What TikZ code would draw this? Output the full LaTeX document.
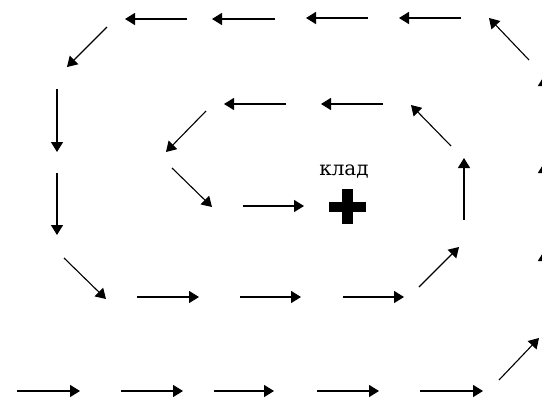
\documentclass[tikz,border=0pt]{standalone}
\usepackage{fontspec}
\newfontfamily\kladfont{DejaVu Serif}
\usetikzlibrary{arrows.meta}
\begin{document}
\begin{tikzpicture}[x=1pt,y=-1pt,
  arr/.style={line width=1.5pt,-{Triangle[length=10pt,width=12pt]}},
  diag/.style={arr,line width=1.1pt},
  label/.style={font=\kladfont\fontsize{20}{20}\selectfont,inner sep=0pt,anchor=base}]
\useasboundingbox (0,0) rectangle (542,399);
\clip (0,0) rectangle (542,399);
% outer loop, top row
\coordinate (a1s) at (187,19); \coordinate (a1e) at (125,19);
\coordinate (a2s) at (275,19); \coordinate (a2e) at (212,19);
\coordinate (a3s) at (368,18); \coordinate (a3e) at (306,18);
\coordinate (a4s) at (461,18); \coordinate (a4e) at (399,18);
\coordinate (a5s) at (529,60); \coordinate (a5e) at (489,18);
\coordinate (a6s) at (107,27); \coordinate (a6e) at (67,67);
\coordinate (a7s) at (57,89);  \coordinate (a7e) at (57,152);
\coordinate (a8s) at (57,173); \coordinate (a8e) at (57,235);
\coordinate (a9s) at (64,258); \coordinate (a9e) at (106,299);
% middle row
\coordinate (b1s) at (137,297); \coordinate (b1e) at (199,297);
\coordinate (b2s) at (240,297); \coordinate (b2e) at (301,297);
\coordinate (b3s) at (343,297); \coordinate (b3e) at (404,297);
\coordinate (b4s) at (419,287); \coordinate (b4e) at (459,247);
\coordinate (b5s) at (464,220); \coordinate (b5e) at (464,158);
\coordinate (b6s) at (451,146); \coordinate (b6e) at (411,105);
\coordinate (b7s) at (383,104); \coordinate (b7e) at (321,104);
\coordinate (b8s) at (286,104); \coordinate (b8e) at (224,104);
\coordinate (b9s) at (206,111); \coordinate (b9e) at (166,152);
\coordinate (b10s) at (172,168); \coordinate (b10e) at (212,207);
\coordinate (b11s) at (243,206); \coordinate (b11e) at (304,206);
% bottom row
\coordinate (c1s) at (17,391);  \coordinate (c1e) at (80,391);
\coordinate (c2s) at (121,391); \coordinate (c2e) at (183,391);
\coordinate (c3s) at (214,391); \coordinate (c3e) at (274,391);
\coordinate (c4s) at (317,391); \coordinate (c4e) at (379,391);
\coordinate (c5s) at (420,391); \coordinate (c5e) at (483,391);
\coordinate (c6s) at (499,380); \coordinate (c6e) at (539,338);
% right edge
\coordinate (d1s) at (544,313); \coordinate (d1e) at (544,251);
\coordinate (d2s) at (544,225); \coordinate (d2e) at (544,163);
\coordinate (d3s) at (544,138); \coordinate (d3e) at (544,76);

\foreach \n in {a1,a2,a3,a4,a7,a8,b1,b2,b3,b5,b7,b8,b11,c1,c2,c3,c4,c5,d1,d2,d3}
  \draw[arr] (\n s) -- (\n e);
\foreach \n in {a5,a6,a9,b4,b6,b9,b10,c6}
  \draw[diag] (\n s) -- (\n e);

% treasure
\node[label] (klad) at (344,175) {клад};
\fill (342,189) rectangle (353,224);
\fill (329,202) rectangle (366,212);
\end{tikzpicture}
\end{document}
